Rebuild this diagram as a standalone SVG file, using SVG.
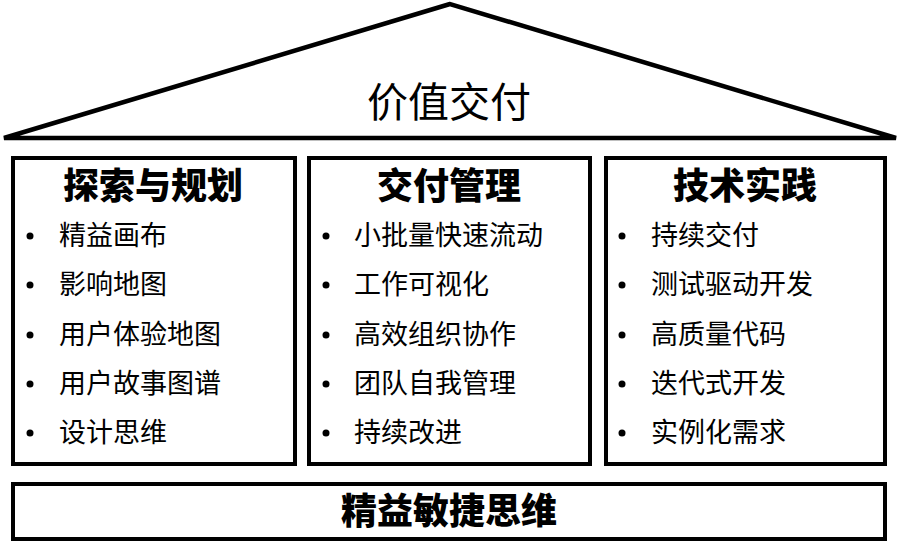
<svg xmlns="http://www.w3.org/2000/svg" width="900" height="555" viewBox="0 0 900 555">
<style>
.box{fill:#fff;stroke:#000;stroke-width:4}
.title{font-family:"Noto Sans CJK SC","Noto Sans",sans-serif;font-weight:900;font-size:36px;fill:#000;text-anchor:middle}
.item{font-family:"Noto Sans CJK SC","Noto Sans",sans-serif;font-size:27px;fill:#000}
.roof{font-family:"Noto Sans CJK SC","Noto Sans",sans-serif;font-size:41px;fill:#000;text-anchor:middle}
.dot{fill:#000}
</style>
<rect width="900" height="555" fill="#fff"/>
<g id="roof">
<polygon points="450,4 4,138 896,138" fill="#fff" stroke="#000" stroke-width="4.5" stroke-linejoin="miter"/>
<text class="roof" x="449" y="117">价值交付</text>
</g>
<g id="explore">
<rect class="box" x="13" y="158" width="282" height="306"/>
<text class="title" x="153" y="199">探索与规划</text>
<circle class="dot" cx="30" cy="236" r="3.5"/><text class="item" x="59" y="245">精益画布</text>
<circle class="dot" cx="30" cy="285" r="3.5"/><text class="item" x="59" y="294">影响地图</text>
<circle class="dot" cx="30" cy="335" r="3.5"/><text class="item" x="59" y="344">用户体验地图</text>
<circle class="dot" cx="30" cy="384" r="3.5"/><text class="item" x="59" y="393">用户故事图谱</text>
<circle class="dot" cx="30" cy="433" r="3.5"/><text class="item" x="59" y="442">设计思维</text>
</g>
<g id="delivery">
<rect class="box" x="309" y="158" width="281" height="306"/>
<text class="title" x="449" y="199">交付管理</text>
<circle class="dot" cx="326" cy="236" r="3.5"/><text class="item" x="354" y="245">小批量快速流动</text>
<circle class="dot" cx="326" cy="285" r="3.5"/><text class="item" x="354" y="294">工作可视化</text>
<circle class="dot" cx="326" cy="335" r="3.5"/><text class="item" x="354" y="344">高效组织协作</text>
<circle class="dot" cx="326" cy="384" r="3.5"/><text class="item" x="354" y="393">团队自我管理</text>
<circle class="dot" cx="326" cy="433" r="3.5"/><text class="item" x="354" y="442">持续改进</text>
</g>
<g id="tech">
<rect class="box" x="606" y="158" width="279" height="306"/>
<text class="title" x="745" y="199">技术实践</text>
<circle class="dot" cx="622" cy="236" r="3.5"/><text class="item" x="651" y="245">持续交付</text>
<circle class="dot" cx="622" cy="285" r="3.5"/><text class="item" x="651" y="294">测试驱动开发</text>
<circle class="dot" cx="622" cy="335" r="3.5"/><text class="item" x="651" y="344">高质量代码</text>
<circle class="dot" cx="622" cy="384" r="3.5"/><text class="item" x="651" y="393">迭代式开发</text>
<circle class="dot" cx="622" cy="433" r="3.5"/><text class="item" x="651" y="442">实例化需求</text>
</g>
<g id="foundation">
<rect class="box" x="13" y="484" width="872" height="55"/>
<text class="title" x="449" y="524">精益敏捷思维</text>
</g>
<g id="connectors"/>
</svg>
